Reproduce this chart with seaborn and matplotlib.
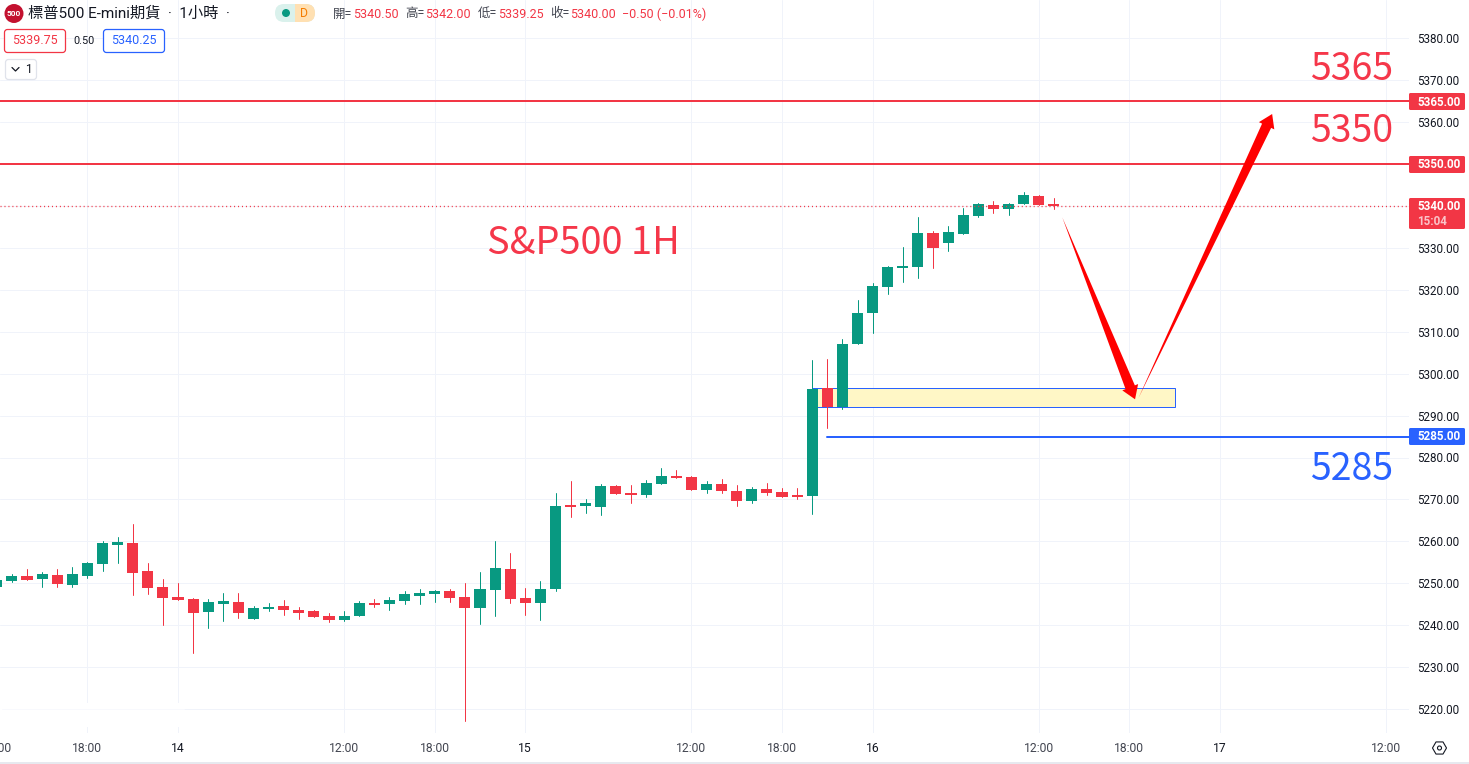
import numpy as np
import pandas as pd
import matplotlib
matplotlib.use("Agg")
import matplotlib.pyplot as plt
from matplotlib.patches import Circle, FancyBboxPatch, Polygon, Rectangle, RegularPolygon
from matplotlib.lines import Line2D
from matplotlib.transforms import IdentityTransform
import seaborn as sns

# hourly bars, index 0 = the 18:00 bar left of "14"
bar_index = list(range(-6, 65))
opens = [5249.0, 5250.55, 5251.75, 5251.0, 5252.0, 5249.6, 5251.75, 5254.6, 5259.1, 5259.6,
         5252.9, 5249.1, 5246.75, 5246.25, 5243.2, 5245.1, 5245.55, 5241.5, 5243.9, 5244.6,
         5243.65, 5243.4, 5242.2, 5241.25, 5242.2, 5245.3, 5245.1, 5245.8, 5247.0, 5247.45,
         5248.2, 5246.75, 5244.1, 5248.4, 5253.4, 5246.5, 5245.3, 5248.65, 5268.65, 5268.4,
         5268.2, 5273.2, 5271.5, 5271.0, 5273.65, 5275.55, 5275.3, 5272.2, 5273.65, 5272.0,
         5269.6, 5272.45, 5271.75, 5271.0, 5270.8, 5296.5, 5292.0, 5307.0, 5314.4, 5320.8,
         5325.3, 5325.55, 5333.65, 5331.3, 5333.4, 5337.7, 5340.3, 5339.35, 5340.55, 5342.45,
         5340.5]
highs = [5250.8, 5252.2, 5253.4, 5252.7, 5253.4, 5253.9, 5255.1, 5260.1, 5261.0, 5264.1,
         5254.85, 5251.0, 5250.1, 5246.5, 5246.25, 5247.7, 5247.7, 5244.6, 5245.3, 5246.0,
         5244.35, 5243.65, 5242.9, 5243.4, 5245.8, 5246.25, 5246.75, 5248.2, 5248.65, 5248.4,
         5248.65, 5250.1, 5252.7, 5260.1, 5257.2, 5248.9, 5250.55, 5271.5, 5274.4, 5270.1,
         5273.65, 5273.4, 5273.4, 5274.6, 5277.45, 5277.0, 5275.55, 5274.4, 5274.85, 5273.4,
         5272.9, 5273.9, 5272.7, 5272.7, 5303.2, 5303.4, 5308.2, 5317.5, 5321.75, 5325.8,
         5330.3, 5337.45, 5334.1, 5335.3, 5339.6, 5340.8, 5341.3, 5340.8, 5343.4, 5342.7,
         5342.0]
lows = [5249.0, 5250.3, 5250.8, 5249.1, 5249.1, 5249.1, 5251.3, 5252.9, 5254.85, 5247.2,
        5247.45, 5240.1, 5246.0, 5233.4, 5239.4, 5241.0, 5241.75, 5241.5, 5243.4, 5242.45,
        5241.5, 5242.0, 5240.8, 5241.0, 5242.2, 5244.35, 5243.65, 5245.1, 5245.1, 5245.55,
        5245.55, 5217.0, 5240.3, 5242.2, 5245.3, 5242.45, 5241.25, 5248.2, 5265.8, 5266.75,
        5266.3, 5271.3, 5269.1, 5270.55, 5273.65, 5275.1, 5272.2, 5271.5, 5271.5, 5268.4,
        5269.1, 5271.0, 5270.55, 5270.1, 5266.5, 5287.0, 5291.5, 5307.0, 5309.8, 5319.1,
        5322.0, 5322.95, 5325.3, 5329.4, 5333.4, 5337.45, 5338.4, 5337.9, 5340.55, 5340.3,
        5339.25]
closes = [5250.8, 5251.75, 5250.8, 5252.2, 5249.85, 5252.2, 5254.85, 5259.6, 5259.85, 5252.45,
          5248.9, 5246.5, 5246.0, 5242.9, 5245.55, 5245.8, 5242.9, 5244.1, 5244.35, 5243.65,
          5242.9, 5242.0, 5241.25, 5242.2, 5245.3, 5244.85, 5246.0, 5247.45, 5247.7, 5248.2,
          5246.5, 5244.1, 5248.65, 5253.65, 5246.25, 5245.3, 5248.65, 5268.4, 5268.2, 5269.1,
          5273.2, 5271.3, 5271.0, 5273.9, 5275.55, 5275.1, 5272.2, 5273.65, 5272.0, 5269.6,
          5272.45, 5271.5, 5270.55, 5270.55, 5296.3, 5292.0, 5307.2, 5314.6, 5321.0, 5325.55,
          5325.8, 5333.65, 5330.1, 5333.9, 5337.9, 5340.55, 5339.35, 5340.55, 5342.7, 5340.3,
          5340.0]

price_ticks = list(range(5220, 5390, 10))
time_ticks = [0, 6, 17, 23, 29, 40, 46, 52, 63, 69, 75, 86]
time_labels = ["18:00", "14", "12:00", "18:00", "15", "12:00", "18:00", "16", "12:00", "18:00", "17", "12:00"]

resistance_levels = [5365, 5350]
support_level = 5285
last_price = 5340
zone_low, zone_high = 5292, 5296.5
arrow_down = (64.56, 5337.33, 69.38, 5293.89)
arrow_up = (69.6, 5294.13, 78.46, 5361.98)

GREEN = "#089981"
RED = "#f23645"
BLUE = "#2962ff"
GRID = "#f0f3fa"
INK = "#131722"
LATIN = ["Roboto", "Noto Sans CJK TC"]
BIG = ["Noto Sans CJK TC", "DejaVu Sans"]

W, H = 1469, 764
AX_R, AX_B = 1409, 733
PX_PER_BAR = 15.1
PX_PER_POINT = 4.19

sns.set_theme(style="white", rc={"axes.edgecolor": "white", "figure.facecolor": "white"})
plt.rcParams["font.family"] = LATIN

df = pd.DataFrame({"k": bar_index, "o": opens, "h": highs, "l": lows, "c": closes})
df["up"] = df["c"] >= df["o"]
df["top"] = df[["o", "c"]].max(axis=1)
df["bot"] = df[["o", "c"]].min(axis=1)

fig = plt.figure(figsize=(W / 100, H / 100), dpi=100)
ax = fig.add_axes([0, 1 - AX_B / H, AX_R / W, AX_B / H])

# wicks
wicks = df.melt(id_vars=["k", "up"], value_vars=["h", "l"], value_name="price")
sns.lineplot(data=wicks, x="k", y="price", units="k", hue="up", estimator=None, sort=False,
             palette={True: GREEN, False: RED}, linewidth=0.72, legend=False, ax=ax, zorder=4)

# bodies
for is_up, col in [(True, GREEN), (False, RED)]:
    part = df[df["up"] == is_up]
    sns.barplot(x=part["k"].to_numpy(), y=(part["top"] - part["bot"]).to_numpy(), bottom=part["bot"].to_numpy(),
                native_scale=True, width=0.73, color=col, saturation=1, errorbar=None,
                linewidth=0, ax=ax, zorder=5)

ax.set_xlim(-87.4 / PX_PER_BAR, (AX_R - 87.4) / PX_PER_BAR)
ax.set_ylim(5380 - (AX_B - 38.5) / PX_PER_POINT, 5380 + 38.5 / PX_PER_POINT)
ax.set_xlabel("")
ax.set_ylabel("")
ax.set_yticks(price_ticks)
ax.set_yticklabels([f"{p}.00" for p in price_ticks])
ax.yaxis.tick_right()
ax.set_xticks(time_ticks)
ax.set_xticklabels(time_labels)
ax.tick_params(axis="y", length=0, pad=5.8, labelsize=8.4, labelcolor=INK)
ax.tick_params(axis="x", length=0, pad=6.5, labelsize=8.7, labelcolor="#434651")
for lab in ax.get_xticklabels():
    if len(lab.get_text()) == 2:
        lab.set_color(INK)
ax.grid(True, color=GRID, linewidth=0.72)
ax.set_axisbelow(True)
for s in ax.spines.values():
    s.set_visible(False)
# the 12:00 label falls off the left edge, only its tail shows
ax.text(-6, -0.0205, "12:00", transform=ax.get_xaxis_transform(), ha="center", va="center",
        fontsize=8.7, color="#434651", clip_on=False)

ax.add_patch(Rectangle((0, H - 727), 184, 24, transform=IdentityTransform(), fc="white", ec="none", zorder=0.8))
ax.add_line(Line2D([2, 184], [H - 709, H - 709], transform=IdentityTransform(), color="#f8f9fd", lw=0.72, zorder=0.9))

# drawings
ax.add_patch(Rectangle((48, zone_low), 24, zone_high - zone_low, fc="#fff7c6", ec=BLUE, lw=0.72, zorder=2))
for lvl in resistance_levels:
    ax.axhline(lvl, color=RED, lw=1.44, zorder=3)
ax.plot([49, ax.get_xlim()[1]], [support_level, support_level], color=BLUE, lw=1.44, zorder=3)
ax.axhline(last_price, color=RED, lw=0.95, ls=(0, (0.8, 2.2)), zorder=6)


def tapered_arrow(x0, y0, x1, y1):
    # tail is a point, the shaft widens up to the head
    p0, p1 = ax.transData.transform([(x0, y0), (x1, y1)])
    d = p1 - p0
    d = d / np.hypot(*d)
    n = np.array([-d[1], d[0]])
    neck = p1 - d * 13
    pts = [p0, neck + n * 5, neck + n * 8.5, p1, neck - n * 8.5, neck - n * 5]
    ax.add_patch(Polygon(pts, closed=True, transform=IdentityTransform(), fc="#ff0000", ec="none", zorder=7))


tapered_arrow(*arrow_down)
tapered_arrow(*arrow_up)


def px_text(x, y, s, **kw):
    kw.setdefault("va", "center")
    kw.setdefault("ha", "left")
    kw.setdefault("family", LATIN)
    return fig.text(x / W, 1 - y / H, s, zorder=20, **kw)


def px_box(x0, y0, x1, y1, fc, ec="none", lw=0.72, rad=1.5):
    p = FancyBboxPatch((x0, H - y1), x1 - x0, y1 - y0, boxstyle=f"round,pad=0,rounding_size={rad}",
                       transform=IdentityTransform(), fc=fc, ec=ec, lw=lw, zorder=10)
    fig.add_artist(p)
    return p


# big annotations
px_text(1310, 69, "5365", color="#f5374a", fontsize=27, family=BIG)
px_text(1310, 132, "5350", color="#f5374a", fontsize=27, family=BIG)
px_text(1310, 470, "5285", color=BLUE, fontsize=27, family=BIG)
px_text(487, 244, "S&P500 1H", color="#f5374a", fontsize=27.3, family=BIG)

# price axis tags
px_box(1409, 93, 1465, 110, RED)
px_text(1417, 102, "5365.00", color="white", fontsize=8.4, fontweight="bold")
px_box(1409, 156, 1465, 173, RED)
px_text(1417, 165, "5350.00", color="white", fontsize=8.4, fontweight="bold")
px_box(1409, 198, 1465, 229, RED)
px_text(1417, 207, "5340.00", color="white", fontsize=8.4, fontweight="bold")
px_text(1417, 221.5, "15:04", color="#fbc3c8", fontsize=8.4, fontweight="bold")
px_box(1409, 428, 1465, 445, BLUE)
px_text(1417, 437, "5285.00", color="white", fontsize=8.4, fontweight="bold")

# header
fig.add_artist(Circle((14, H - 13.5), 9.5, transform=IdentityTransform(), fc="#c3112f", ec="none", zorder=10))
px_text(14, 13.5, "500", color="white", fontsize=6, fontweight="bold", ha="center")
px_text(28, 14, "標普500 E-mini期貨  ·  1小時  ·", color=INK, fontsize=11)

pill = px_box(275, 4, 315, 22, "#daf1ec", rad=9)
half = Rectangle((295, H - 22), 20, 18, transform=IdentityTransform(), fc="#ffe0b2", ec="none", zorder=11)
fig.add_artist(half)
half.set_clip_path(pill.get_path(), pill.get_transform())
fig.add_artist(Circle((286, H - 13), 4, transform=IdentityTransform(), fc=GREEN, ec="none", zorder=12))
px_text(304, 13.5, "D", color="#f57c00", fontsize=8.8, ha="center")

for lx, vx, lab, val in [(333, 352.7, "開=", "5340.50"), (405, 425, "高=", "5342.00"),
                         (478, 497.7, "低=", "5339.25"), (550, 570, "收=", "5340.00")]:
    px_text(lx, 14, lab, color="#434651", fontsize=9)
    px_text(vx, 14, val, color=RED, fontsize=9)
px_text(621.7, 14, "−0.50 (−0.01%)", color=RED, fontsize=9)

px_box(4.5, 29.5, 65.5, 52.5, "white", ec=RED, lw=0.9, rad=3)
px_text(35, 41, "5339.75", color=RED, fontsize=9, ha="center")
px_text(84, 41, "0.50", color=INK, fontsize=7.8, ha="center")
px_box(103.5, 29.5, 164.5, 52.5, "white", ec=BLUE, lw=0.9, rad=3)
px_text(134, 41, "5340.25", color=BLUE, fontsize=9, ha="center")
px_box(5.5, 59.5, 36.5, 79.5, "white", ec="#e0e3eb", lw=0.9, rad=3)
fig.add_artist(Line2D([12, 15.5, 19], [H - 67.5, H - 71, H - 67.5], transform=IdentityTransform(),
                      color=INK, lw=0.9, zorder=12))
px_text(28.5, 69.5, "1", color=INK, fontsize=8.6, ha="center")

# settings icon and bottom border
fig.add_artist(RegularPolygon((1439.5, H - 748), 6, radius=7, orientation=np.pi / 6, transform=IdentityTransform(),
                              fc="white", ec=INK, lw=0.8, zorder=12))
fig.add_artist(Circle((1439.5, H - 748), 2, transform=IdentityTransform(), fc="white", ec=INK, lw=0.8, zorder=13))
fig.add_artist(Line2D([0, W], [H - 762.5, H - 762.5], transform=IdentityTransform(), color="#e0e3eb", lw=1.1, zorder=10))

fig.savefig("out.png", dpi=100)
